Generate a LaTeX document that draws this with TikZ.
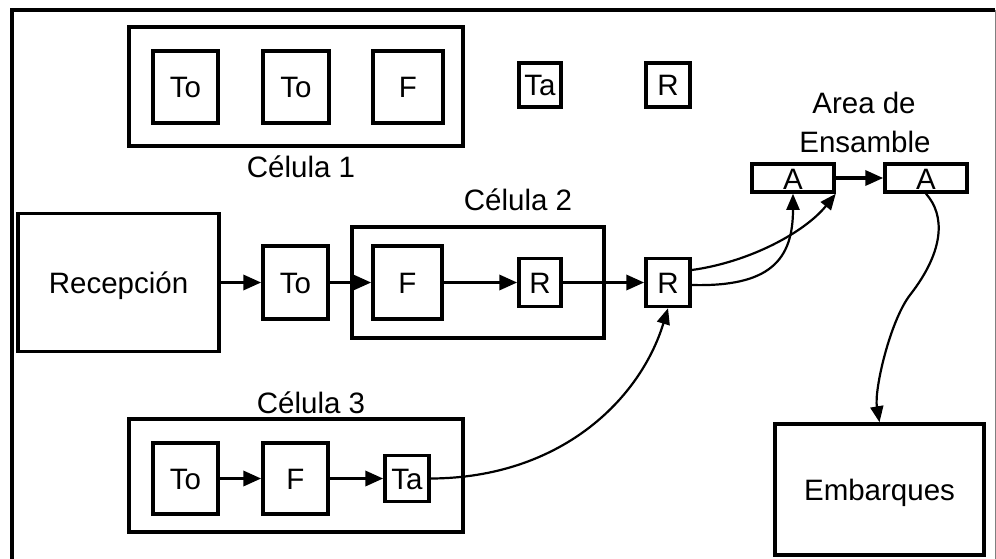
\documentclass[tikz,border=0pt]{standalone}
\usepackage{fontspec}
\setmainfont{Liberation Sans}
\usetikzlibrary{arrows.meta}
\begin{document}
\begin{tikzpicture}[x=1pt,y=-1pt,
  every node/.style={font=\fontsize{29.5}{35}\selectfont, inner sep=0pt},
  box/.style={draw, line width=3.5pt, text height=21pt, text depth=0pt},
  lbl/.style={anchor=base},
  flow/.style={line width=3.5pt, -{Triangle[length=18pt,width=15pt]}},
  curvy/.style={line width=2.2pt, -{Triangle[length=16pt,width=13pt]}},
]
\useasboundingbox (0,0) rectangle (996,558);
% outer frame
\draw[line width=3.5pt] (12,560) -- (12,10) -- (995,10);
\draw[line width=1pt, gray] (995,10) -- (995,560);

% Celula 1
\node[box, minimum width=334pt, minimum height=119pt] (cel1) at (296,86.5) {};
\node[box, minimum width=65pt, minimum height=72pt] (c1to1) at (185.5,87) {To};
\node[box, minimum width=66pt, minimum height=72pt] (c1to2) at (296,87) {To};
\node[box, minimum width=70pt, minimum height=72pt] (c1f) at (408,87) {F};
\node[lbl] (cel1t) at (301,177) {Célula 1};

% loose machines
\node[box, minimum width=42pt, minimum height=44pt] (tatop) at (540,85) {Ta};
\node[box, minimum width=44pt, minimum height=44pt] (rtop) at (668,85) {R};

% Recepcion row
\node[box, minimum width=201pt, minimum height=138pt] (recep) at (118.5,282.5) {Recepción};
\node[box, minimum width=65pt, minimum height=73pt] (to) at (295.5,282.5) {To};
\node[box, minimum width=252pt, minimum height=111pt] (cel2) at (478,282.5) {};
\node[box, minimum width=69pt, minimum height=73pt] (c2f) at (407.5,282.5) {F};
\node[box, minimum width=42pt, minimum height=48pt] (c2r) at (540,282.5) {R};
\node[box, minimum width=44pt, minimum height=48pt] (rout) at (668,282.5) {R};
\node[lbl] (cel2t) at (518,210) {Célula 2};

% Celula 3
\node[box, minimum width=334pt, minimum height=113pt] (cel3) at (296,475.5) {};
\node[box, minimum width=65pt, minimum height=71pt] (c3to) at (185.5,478.5) {To};
\node[box, minimum width=65pt, minimum height=71pt] (c3f) at (295.5,478.5) {F};
\node[box, minimum width=44pt, minimum height=46pt] (c3ta) at (407,478.5) {Ta};
\node[lbl] (cel3t) at (311,413) {Célula 3};

% Area de Ensamble
\node[lbl] (areat) at (864,113) {Area de};
\node[lbl] (enst) at (865,152) {Ensamble};
\node[box, minimum width=82pt, minimum height=28pt] (A1) at (793,178) {};
\node[box, minimum width=82pt, minimum height=28pt] (A2) at (926,178) {};
\node[lbl] (a1t) at (793,189.5) {A};
\node[lbl] (a2t) at (926,189.5) {A};

% Embarques
\node[box, minimum width=209pt, minimum height=131pt] (emb) at (879.5,489.5) {Embarques};

% straight flows
\draw[flow] (recep) -- (to);
\draw[flow] (to) -- (c2f);
\draw[flow] (c2f) -- (c2r);
\draw[flow] (c2r) -- (rout);
\draw[flow] (c3to) -- (c3f);
\draw[flow] (c3f) -- (c3ta);
\draw[flow] (A1) -- (A2);

% curved flows
\draw[curvy] ([yshift=12.5pt]rout.east) .. controls (750,262) and (805,232) .. (A1.south east);
\draw[curvy] ([yshift=-2.5pt]rout.east) .. controls (770,287) and (793,260) .. (A1.south);
\draw[curvy] (c3ta.east) .. controls (560,478) and (640,400) .. (rout.south);
\draw[curvy] (A2.south) .. controls (945,215) and (945,250) .. (910,295)
  .. controls (890,321) and (874,390) .. (emb.north);
\end{tikzpicture}
\end{document}
